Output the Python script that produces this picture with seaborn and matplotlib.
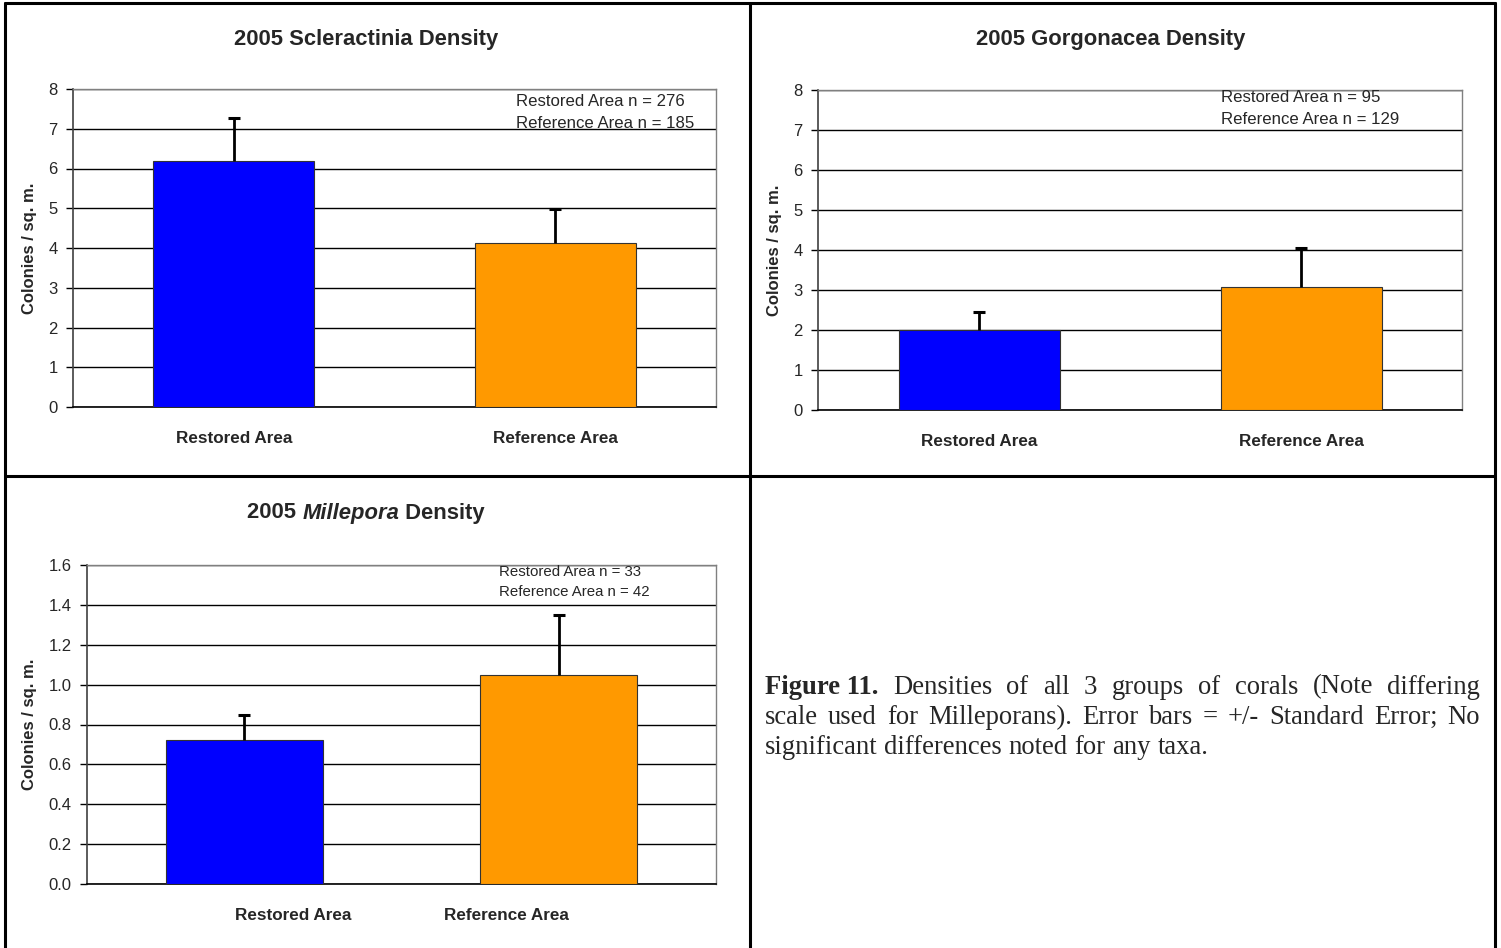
import matplotlib
matplotlib.use("Agg")
import matplotlib.pyplot as plt
import seaborn as sns
import pandas as pd
from matplotlib.lines import Line2D
from matplotlib.offsetbox import TextArea, HPacker, AnchoredOffsetbox

# Datos
categorias = ["Restored Area", "Reference Area"]
colores = ["#0000FF", "#FF9900"]

scler_media = [6.19, 4.13]
scler_se = [1.08, 0.85]
scler_n = ["Restored Area n = 276", "Reference Area n = 185"]

gorgo_media = [2.00, 3.08]
gorgo_se = [0.46, 0.98]
gorgo_n = ["Restored Area n = 95", "Reference Area n = 129"]

mille_media = [0.72, 1.05]
mille_se = [0.13, 0.30]
mille_n = ["Restored Area n = 33", "Reference Area n = 42"]

sns.set_style("white")
plt.rcParams['font.family'] = ['Liberation Sans', 'DejaVu Sans']

W, H = 1501, 948
fig = plt.figure(figsize=(W / 100, H / 100), dpi=100)


def caja(left, top, right, bottom):
    return [left / W, (H - bottom) / H, (right - left) / W, (bottom - top) / H]


def px(x, y):
    return x / W, (H - y) / H


def panel(rect, medias, errores, ymax, paso, fmt, notas, nota_xy, nota_size, xticks=None):
    ax = fig.add_axes(rect)
    df = pd.DataFrame({"area": categorias, "densidad": medias})
    sns.barplot(data=df, x="area", y="densidad", hue="area", palette=colores, saturation=1,
                width=0.5, edgecolor="#333333", linewidth=0.8, legend=False, ax=ax, zorder=3)
    # barra de error solo hacia arriba
    tops = [m + e for m, e in zip(medias, errores)]
    ax.vlines([0, 1], medias, tops, color="black", linewidth=2, zorder=4)
    ax.plot([0, 1], tops, linestyle="none", marker="_", markersize=9, mew=2.2,
            color="black", zorder=4)
    ax.set_xlim(-0.5, 1.5)
    ax.set_ylim(0, ymax)
    ticks = [i * paso for i in range(int(round(ymax / paso)) + 1)]
    ax.set_yticks(ticks, [fmt.format(t) for t in ticks])
    ax.yaxis.grid(True, color="black", linewidth=1)
    ax.set_axisbelow(True)
    if xticks is not None:
        ax.set_xticks(xticks, categorias)
    ax.tick_params(axis="x", length=0, pad=17, labelsize=12.3)
    for lab in ax.get_xticklabels():
        lab.set_fontweight("bold")
    ax.tick_params(axis="y", direction="out", length=5, width=1, pad=6,
                   labelsize=12, left=True, color="black")
    ax.set_xlabel("")
    ax.set_ylabel("Colonies / sq. m.", fontsize=12, fontweight="bold", labelpad=8)
    for lado in ["top", "right"]:
        ax.spines[lado].set_color("#808080")
        ax.spines[lado].set_linewidth(1)
    ax.spines["left"].set_color("#404040")
    ax.spines["bottom"].set_color("black")
    ax.spines["left"].set_linewidth(1.2)
    ax.spines["bottom"].set_linewidth(1.2)
    x0, y0 = nota_xy
    for i, t in enumerate(notas):
        fig.text(*px(x0, y0 + i * (22 if nota_size > 11.5 else 20)), t, fontsize=nota_size,
                 va="center", ha="left")
    return ax


panel(caja(73, 89, 716, 407), scler_media, scler_se, 8, 1, "{:.0f}",
      scler_n, (516, 101), 12.1)
panel(caja(818, 90, 1462, 410), gorgo_media, gorgo_se, 8, 1, "{:.0f}",
      gorgo_n, (1221, 98), 12.1)
panel(caja(87, 565, 716, 884), mille_media, mille_se, 1.6, 0.2, "{:.1f}",
      mille_n, (499, 572), 10.8, xticks=[0.155, 0.835])

# Títulos
fs_tit = 15.8
fig.text(*px(366, 39), "2005 Scleractinia Density", fontsize=fs_tit, fontweight="bold",
         ha="center", va="center")
fig.text(*px(1111, 40), "2005 Gorgonacea Density", fontsize=fs_tit, fontweight="bold",
         ha="center", va="center")
partes = HPacker(children=[
    TextArea("2005 ", textprops=dict(fontsize=fs_tit, fontweight="bold")),
    TextArea("Millepora", textprops=dict(fontsize=fs_tit, fontweight="bold", fontstyle="italic")),
    TextArea(" Density", textprops=dict(fontsize=fs_tit, fontweight="bold")),
], align="baseline", pad=0, sep=0)
caja_titulo = AnchoredOffsetbox(loc="center", child=partes, pad=0, frameon=False,
                                bbox_to_anchor=px(366, 513),
                                bbox_transform=fig.transFigure, borderpad=0)
fig.add_artist(caja_titulo)

# Marco de tabla
lw = 2.2
for (xa, ya), (xb, yb) in [((5, 3), (1495, 3)), ((5, 3), (5, 948)), ((1495, 3), (1495, 948)),
                           ((750, 3), (750, 948)), ((5, 476), (1495, 476))]:
    fig.add_artist(Line2D([xa / W, xb / W], [(H - ya) / H, (H - yb) / H],
                          color="black", linewidth=lw, transform=fig.transFigure))

# Leyenda de la figura, justificada
lineas = [
    [("Figure 11.", True), ("Densities", False), ("of", False), ("all", False), ("3", False),
     ("groups", False), ("of", False), ("corals", False), ("(Note", False), ("differing", False)],
    [("scale", False), ("used", False), ("for", False), ("Milleporans).", False),
     ("Error", False), ("bars", False), ("=", False), ("+/-", False), ("Standard", False),
     ("Error;", False), ("No", False)],
    [("significant", False), ("differences", False), ("noted", False), ("for", False),
     ("any", False), ("taxa.", False)],
]
x_ini, x_fin = 765, 1480
ys = [687, 717, 747]
fs = 19.2
renderer = fig.canvas.get_renderer()
for k, (linea, yy) in enumerate(zip(lineas, ys)):
    textos = []
    for palabra, negrita in linea:
        t = fig.text(0, 0, palabra, fontsize=fs, family=['Liberation Serif', 'DejaVu Serif'],
                     fontweight="bold" if negrita else "normal", va="center", ha="left")
        textos.append(t)
    anchos = [t.get_window_extent(renderer).width for t in textos]
    if k < len(lineas) - 1:
        hueco = (x_fin - x_ini - sum(anchos)) / (len(textos) - 1)
    else:
        hueco = 0.25 * fs * 100 / 72
    x = x_ini
    for t, a in zip(textos, anchos):
        t.set_position(px(x, yy))
        x += a + hueco

fig.savefig("out.png", dpi=100)
